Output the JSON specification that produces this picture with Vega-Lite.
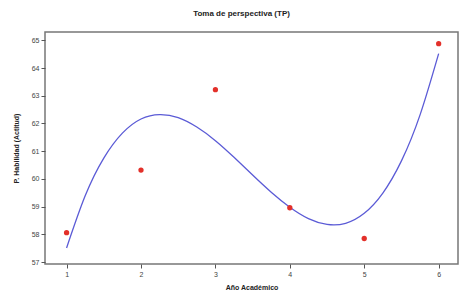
{
  "$schema": "https://vega.github.io/schema/vega-lite/v6.json",
  "autosize": "none",
  "width": 413,
  "height": 232,
  "padding": {"left": 45, "top": 32, "right": 3, "bottom": 33},
  "title": {"text": "Toma de perspectiva (TP)", "font": "Liberation Sans", "fontSize": 8, "fontWeight": "bold", "color": "#222", "offset": 14, "dx": -10},
  "config": {
    "view": {"stroke": "#777", "strokeWidth": 1.5},
    "axis": {"domain": false, "grid": false, "ticks": true, "tickColor": "#555", "tickSize": 4, "labelFont": "Liberation Sans", "labelFontSize": 7, "labelColor": "#444", "labelOverlap": false, "format": "d", "titleFont": "Liberation Sans", "titleFontSize": 7, "titleFontWeight": "bold", "titleColor": "#222"}
  },
  "datasets": {
    "pts": [
      {"x": 1, "y": 58.06}, {"x": 2, "y": 60.32}, {"x": 3, "y": 63.22},
      {"x": 4, "y": 58.96}, {"x": 5, "y": 57.85}, {"x": 6, "y": 64.88}
    ],
    "fit": [
      {"x": 1.0, "y": 57.51}, {"x": 1.25, "y": 59.39}, {"x": 1.5, "y": 60.75}, {"x": 1.75, "y": 61.65},
      {"x": 2.0, "y": 62.16}, {"x": 2.25, "y": 62.32}, {"x": 2.5, "y": 62.21}, {"x": 2.75, "y": 61.87},
      {"x": 3.0, "y": 61.38}, {"x": 3.25, "y": 60.78}, {"x": 3.5, "y": 60.14}, {"x": 3.75, "y": 59.52},
      {"x": 4.0, "y": 58.98}, {"x": 4.25, "y": 58.57}, {"x": 4.5, "y": 58.36}, {"x": 4.75, "y": 58.40},
      {"x": 5.0, "y": 58.76}, {"x": 5.25, "y": 59.49}, {"x": 5.5, "y": 60.65}, {"x": 5.75, "y": 62.31},
      {"x": 6.0, "y": 64.52}
    ]
  },
  "layer": [
    {
      "data": {"name": "fit"},
      "mark": {"type": "line", "color": "#5b5bd6", "strokeWidth": 1.3, "interpolate": "natural"},
      "encoding": {
        "x": {"field": "x", "type": "quantitative", "scale": {"domain": [0.71, 6.26], "nice": false, "zero": false}, "axis": {"values": [1, 2, 3, 4, 5, 6], "title": "Año Académico", "titlePadding": 6}},
        "y": {"field": "y", "type": "quantitative", "scale": {"domain": [56.93, 65.3], "nice": false, "zero": false}, "axis": {"values": [57, 58, 59, 60, 61, 62, 63, 64, 65], "tickCount": 9, "labelOverlap": false, "title": "P. Habilidad (Actitud)", "titlePadding": 12}}
      }
    },
    {
      "data": {"name": "pts"},
      "mark": {"type": "point", "filled": true, "shape": "circle", "size": 28, "color": "#e3302a", "opacity": 1},
      "encoding": {
        "x": {"field": "x", "type": "quantitative"},
        "y": {"field": "y", "type": "quantitative"}
      }
    }
  ]
}
